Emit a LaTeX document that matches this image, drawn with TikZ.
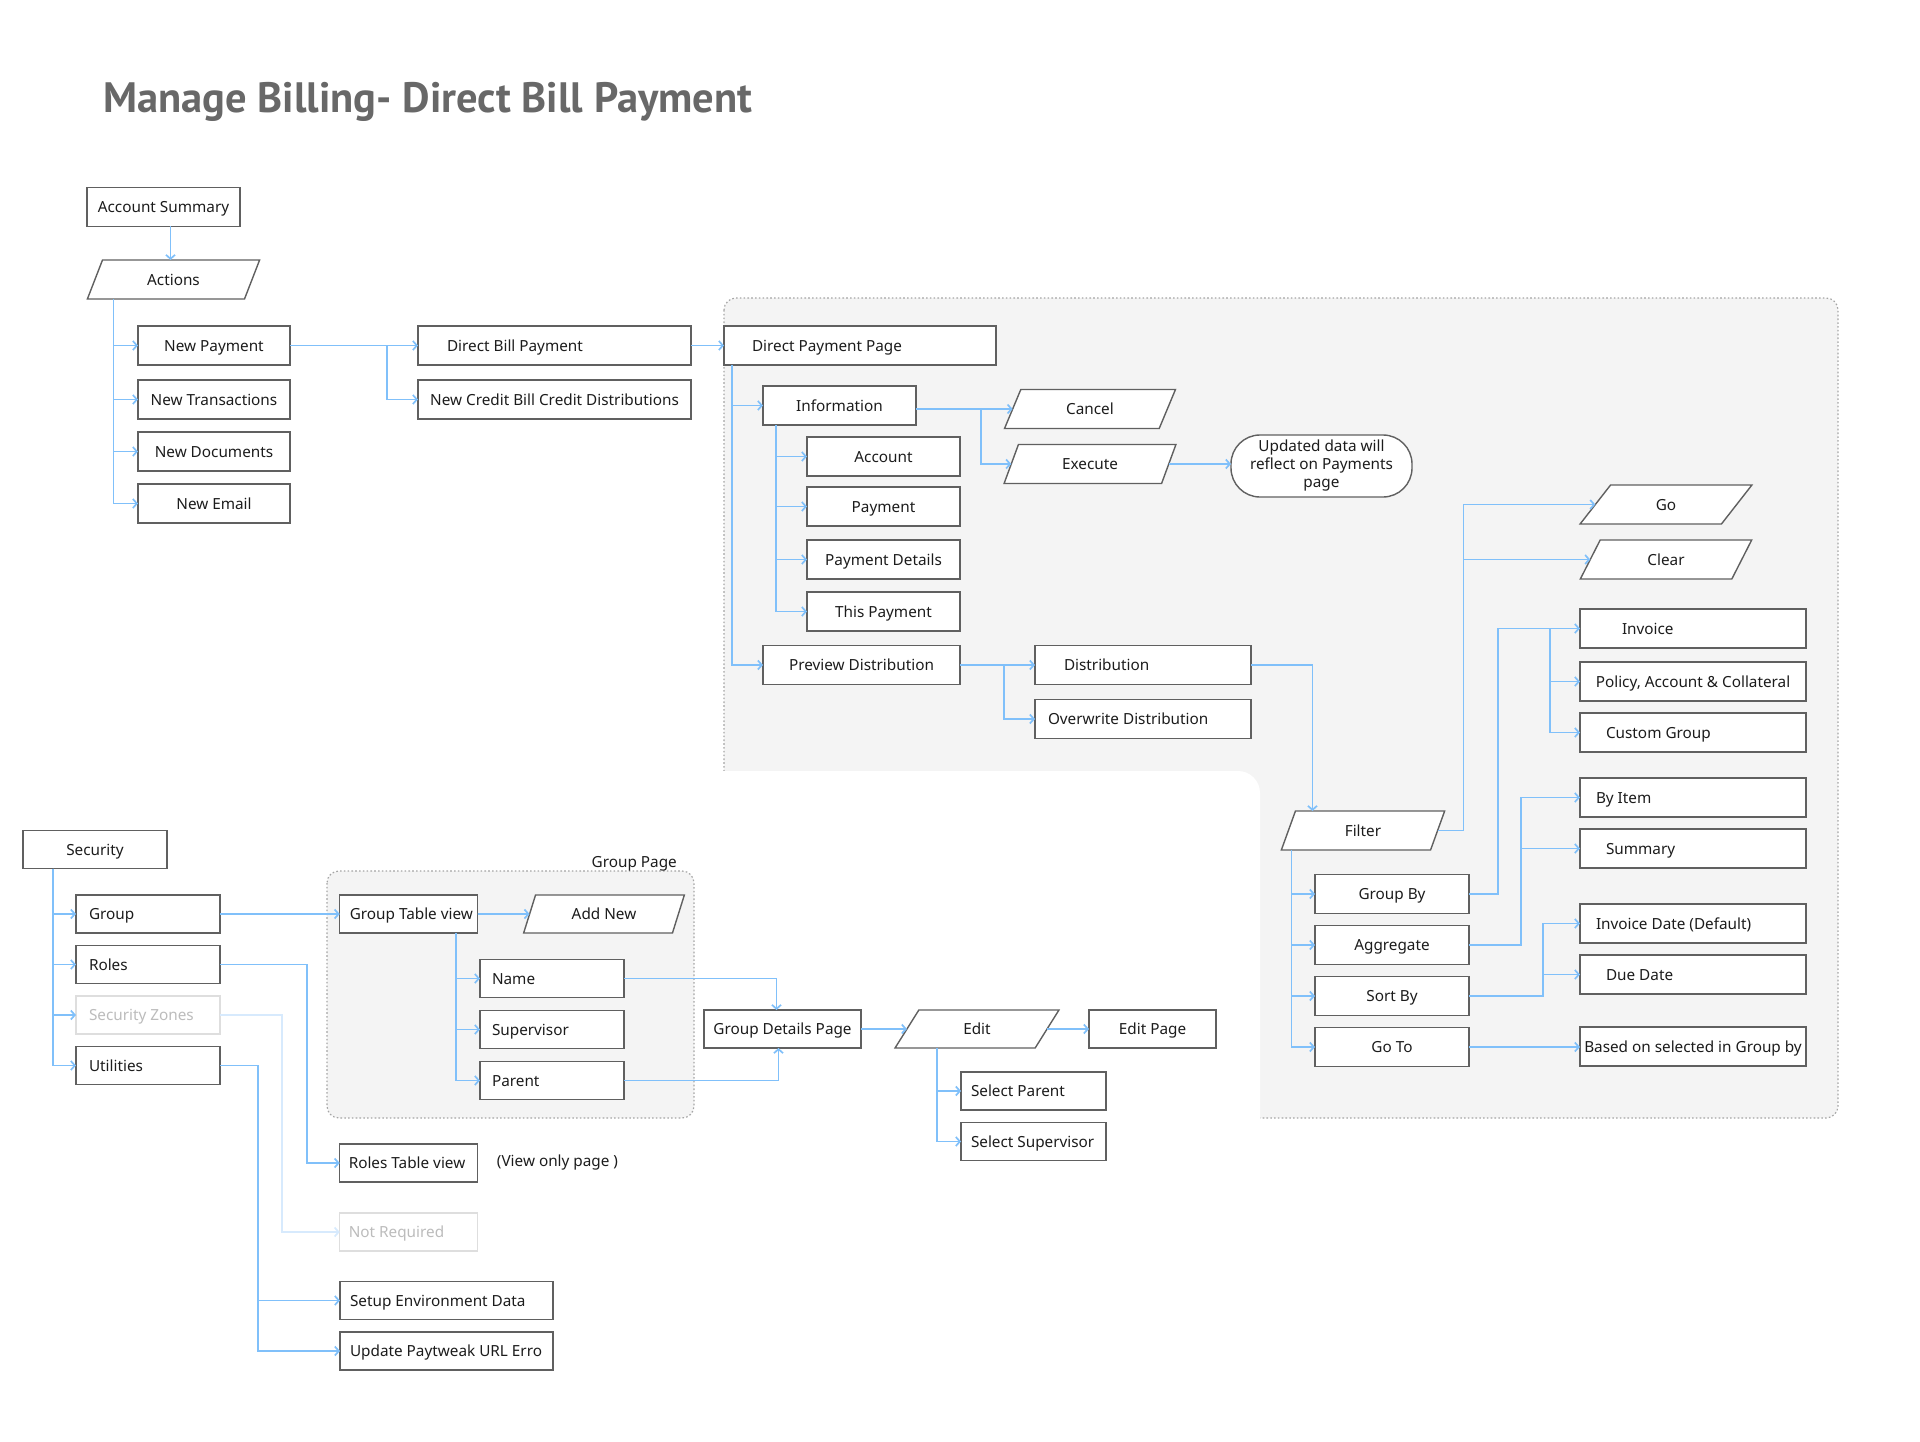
\documentclass[tikz,border=0pt]{standalone}
\usepackage{fontspec}
\setmainfont{Noto Sans}
\newfontfamily\titlefont{PT Sans}
\usepackage{xcolor}
\usepackage{tikz}
\usetikzlibrary{shapes.geometric, arrows.meta, positioning}

\definecolor{linkblue}{RGB}{128,192,250}
\definecolor{fadeblue}{RGB}{215,234,253}
\definecolor{boxline}{RGB}{96,96,96}
\definecolor{boxtext}{RGB}{28,28,28}
\definecolor{fadeline}{RGB}{222,222,222}
\definecolor{fadetext}{RGB}{188,188,188}
\definecolor{pagefill}{RGB}{244,244,244}
\definecolor{pageline}{RGB}{165,165,165}
\definecolor{titlegray}{RGB}{104,104,104}

\begin{document}
\begin{tikzpicture}[
  x=1pt, y=-1pt,
  node distance=13pt and 33pt,
  every node/.style={font=\fontsize{15.3}{18}\selectfont, text=boxtext},
  box/.style={draw=boxline, line width=1.4pt, fill=white, minimum height=39pt, inner sep=0pt, outer sep=0pt, text height=11pt, text depth=0pt},
  lbox/.style 2 args={box, inner xsep=#2, execute at begin node={\setbox0=\hbox\bgroup}, execute at end node={\egroup\makebox[#1][l]{\box0}}},
  para/.style={trapezium, trapezium left angle=63, trapezium right angle=117, trapezium stretches=true, draw=boxline, line width=1.4pt, fill=white, minimum height=39pt, inner sep=0pt, outer sep=0pt, text height=11pt, text depth=0pt},
  faded/.style={draw=fadeline, text=fadetext},
  page/.style={draw=pageline, line width=1.2pt, dash pattern=on 1.6pt off 2.2pt, fill=pagefill, rounded corners=12pt},
  link/.style={draw=linkblue, line width=1.7pt, -{Straight Barb[length=4pt, width=9pt]}}
]
  \useasboundingbox (0,0) rectangle (1920,1442);
  \draw[page] (724,298) rectangle (1838,1118);
  \fill[white, rounded corners=22pt] (690,771) rectangle (1260,1150);
  \draw[page] (327,871) rectangle (694,1118);
  \node[inner sep=0pt, anchor=base east] (grouplabel) at (677,867) {Group Page};

  \node[anchor=base west, inner sep=0pt, text=titlegray, font=\titlefont\bfseries\fontsize{42.5}{50}\selectfont] (title) at (103,113) {Manage Billing- Direct Bill Payment};

  \node[box, minimum width=153pt] (acct) at (163.5,207) {Account Summary};
  \node[para, minimum width=173pt] (actions) at (173.5,279.5) {Actions};
  \node[box, minimum width=152pt] (newpay) at (214,345.5) {New Payment};
  \node[box, minimum width=152pt, below=15pt of newpay] (newtrans) {New Transactions};
  \node[box, minimum width=152pt, below=of newtrans] (newdocs) {New Documents};
  \node[box, minimum width=152pt, below=of newdocs] (newemail) {New Email};
  \node[lbox={215pt}{29pt}, right=128pt of newpay] (dbp) {Direct Bill Payment};
  \node[box, minimum width=273pt, below=15pt of dbp] (ncbcd) {New Credit Bill Credit Distributions};

  \node[lbox={216pt}{28pt}, right=33pt of dbp] (dpp) {Direct Payment Page};
  \node[box, minimum width=153pt] (info) at (839.5,405.5) {Information};
  \node[box, minimum width=153pt] (account) at (883.5,456.5) {Account};
  \node[box, minimum width=153pt, below=11pt of account] (payment) {Payment};
  \node[box, minimum width=153pt, below=14pt of payment] (paydetails) {Payment Details};
  \node[box, minimum width=153pt, below=of paydetails] (thispay) {This Payment};
  \node[box, minimum width=197pt] (preview) at (861.5,665) {Preview Distribution};
  \node[para, minimum width=172pt] (cancel) at (1090,409) {Cancel};
  \node[para, minimum width=172pt, below=16pt of cancel] (execute) {Execute};
  \node[box, align=center, text height=, text depth=, rounded corners=29pt, minimum width=181pt, minimum height=62pt] (updated) at (1321.5,466) {Updated data will\\reflect on Payments\\page};
  \node[lbox={158pt}{29pt}] (distrib) at (1143,665) {Distribution};
  \node[lbox={190pt}{13pt}, below=15pt of distrib] (overwrite) {Overwrite Distribution};

  \node[para, trapezium left angle=71, trapezium right angle=109, minimum width=164pt] (filter) at (1363,830.5) {Filter};
  \node[box, minimum width=154pt] (groupby) at (1392,894) {Group By};
  \node[box, minimum width=154pt, below=12pt of groupby] (aggregate) {Aggregate};
  \node[box, minimum width=154pt, below=12pt of aggregate] (sortby) {Sort By};
  \node[box, minimum width=154pt, below=12pt of sortby] (goto) {Go To};
  \node[para, minimum width=172pt] (go) at (1666,504.5) {Go};
  \node[para, minimum width=172pt, below=16pt of go] (clear) {Clear};
  \node[lbox={142pt}{42pt}] (invoice) at (1693,628.5) {Invoice};
  \node[box, minimum width=226pt, below=14pt of invoice] (policy) {Policy, Account \& Collateral};
  \node[lbox={174pt}{26pt}, below=12pt of policy] (custom) {Custom Group};
  \node[lbox={194pt}{16pt}, below=26pt of custom] (byitem) {By Item};
  \node[lbox={174pt}{26pt}, below=12pt of byitem] (summary) {Summary};
  \node[lbox={194pt}{16pt}, below=36pt of summary] (invdate) {Invoice Date (Default)};
  \node[lbox={174pt}{26pt}, below=12pt of invdate] (duedate) {Due Date};
  \node[box, minimum width=226pt, below=33pt of duedate] (based) {Based on selected in Group by};

  \node[box, minimum width=144pt, minimum height=38pt] (security) at (95,849.5) {Security};
  \node[lbox={118pt}{13pt}, minimum height=38pt] (group) at (148,914) {Group};
  \node[lbox={118pt}{13pt}, minimum height=38pt, below=12.5pt of group] (roles) {Roles};
  \node[lbox={118pt}{13pt}, minimum height=38pt, faded, below=12.5pt of roles] (zones) {Security Zones};
  \node[lbox={118pt}{13pt}, minimum height=38pt, below=12.5pt of zones] (utilities) {Utilities};
  \node[lbox={118pt}{10pt}, minimum height=38pt] (tableview) at (408.75,914) {Group Table view};
  \node[para, minimum width=162pt, minimum height=38pt] (addnew) at (604,914) {Add New};
  \node[lbox={120pt}{12pt}, minimum height=38pt] (name) at (552,978.5) {Name};
  \node[lbox={120pt}{12pt}, minimum height=38pt, below=of name] (supervisor) {Supervisor};
  \node[lbox={120pt}{12pt}, minimum height=38pt, below=of supervisor] (parent) {Parent};
  \node[box, minimum width=157pt, minimum height=38pt] (details) at (782.5,1029) {Group Details Page};
  \node[para, minimum width=164pt, minimum height=38pt] (edit) at (977,1029) {Edit};
  \node[box, minimum width=127pt, minimum height=38pt] (editpage) at (1152.5,1029) {Edit Page};
  \node[lbox={125pt}{10pt}, minimum height=38pt] (selparent) at (1033.5,1091) {Select Parent};
  \node[lbox={125pt}{10pt}, minimum height=38pt, below=12.5pt of selparent] (selsuper) {Select Supervisor};
  \node[lbox={120pt}{9pt}, minimum height=38pt] (rolestable) at (408.75,1163) {Roles Table view};
  \node[inner sep=0pt, right=19pt of rolestable] (viewonly) {(View only page )};
  \node[lbox={120pt}{9pt}, minimum height=38pt, faded] (notreq) at (408.75,1232) {Not Required};
  \node[lbox={193pt}{10pt}, minimum height=38pt] (setup) at (446.5,1300.5) {Setup Environment Data};
  \node[lbox={193pt}{10pt}, minimum height=38pt, below=12.5pt of setup] (paytweak) {Update Paytweak URL Erro};

  \draw[link] ([xshift=7pt]acct.south) -- ([xshift=7pt]acct.south |- actions.north);
  \draw[link] ([xshift=26pt]actions.bottom left corner) |- (newpay.west);
  \draw[link] ([xshift=26pt]actions.bottom left corner) |- (newtrans.west);
  \draw[link] ([xshift=26pt]actions.bottom left corner) |- (newdocs.west);
  \draw[link] ([xshift=26pt]actions.bottom left corner) |- (newemail.west);
  \draw[link] (newpay.east) -- (dbp.west);
  \draw[link] (newpay.east) -- ++(97,0) |- (ncbcd.west);
  \draw[link] (dbp.east) -- (dpp.west);
  \draw[link] ([xshift=8pt]dpp.south west) |- (info.west);
  \draw[link] ([xshift=8pt]dpp.south west) |- (preview.west);
  \draw[link] ([xshift=13pt]info.south west) |- (account.west);
  \draw[link] ([xshift=13pt]info.south west) |- (payment.west);
  \draw[link] ([xshift=13pt]info.south west) |- (paydetails.west);
  \draw[link] ([xshift=13pt]info.south west) |- (thispay.west);
  \draw[link] (info.east |- cancel.west) -- (cancel.west);
  \draw[link] (info.east |- cancel.west) -- ++(65,0) |- (execute.west);
  \draw[link] (execute.east) -- (execute.east -| updated.west);
  \draw[link] (preview.east) -- (distrib.west);
  \draw[link] (preview.east) -- ++(44,0) |- (overwrite.west);
  \draw[link] (distrib.east) -| ([xshift=17pt]filter.top left corner);
  \draw[link] (filter.east) -- ++(26,0) |- (go.west);
  \draw[link] (filter.east) -- ++(26,0) |- (clear.west);
  \draw[link] ([xshift=10pt]filter.bottom left corner) |- (groupby.west);
  \draw[link] ([xshift=10pt]filter.bottom left corner) |- (aggregate.west);
  \draw[link] ([xshift=10pt]filter.bottom left corner) |- (sortby.west);
  \draw[link] ([xshift=10pt]filter.bottom left corner) |- (goto.west);
  \draw[link] (groupby.east) -- ++(29,0) |- (invoice.west);
  \draw[link] (groupby.east) -- ++(29,0) |- ([xshift=-30pt]invoice.west) |- (policy.west);
  \draw[link] (groupby.east) -- ++(29,0) |- ([xshift=-30pt]invoice.west) |- (custom.west);
  \draw[link] (aggregate.east) -- ++(52,0) |- (byitem.west);
  \draw[link] (aggregate.east) -- ++(52,0) |- (summary.west);
  \draw[link] (sortby.east) -- ++(74,0) |- (invdate.west);
  \draw[link] (sortby.east) -- ++(74,0) |- (duedate.west);
  \draw[link] (goto.east) -- (goto.east -| based.west);

  \draw[link] ([xshift=30pt]security.south west) |- (group.west);
  \draw[link] ([xshift=30pt]security.south west) |- (roles.west);
  \draw[link] ([xshift=30pt]security.south west) |- (zones.west);
  \draw[link] ([xshift=30pt]security.south west) |- (utilities.west);
  \draw[link] (group.east) -- (tableview.west);
  \draw[link] (tableview.east) -- (addnew.west);
  \draw[link] ([xshift=-22pt]tableview.south east) |- (name.west);
  \draw[link] ([xshift=-22pt]tableview.south east) |- (supervisor.west);
  \draw[link] ([xshift=-22pt]tableview.south east) |- (parent.west);
  \draw[link] (name.east) -| ([xshift=-6pt]details.north);
  \draw[link] (parent.east) -| ([xshift=-4pt]details.south);
  \draw[link] (details.east) -- (edit.west);
  \draw[link] (edit.east) -- (editpage.west);
  \draw[link] ([xshift=42pt]edit.bottom left corner) |- (selparent.west);
  \draw[link] ([xshift=42pt]edit.bottom left corner) |- (selsuper.west);
  \draw[link] (roles.east) -- ++(87,0) |- (rolestable.west);
  \draw[link, draw=fadeblue] (zones.east) -- ++(62,0) |- (notreq.west);
  \draw[link] (utilities.east) -- ++(38,0) |- (setup.west);
  \draw[link] (utilities.east) -- ++(38,0) |- (paytweak.west);
\end{tikzpicture}
\end{document}
